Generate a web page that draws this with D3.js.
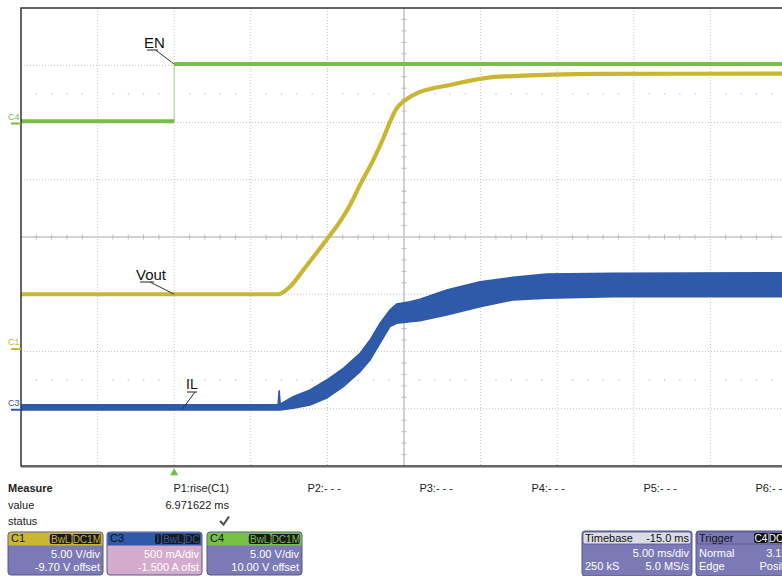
<!DOCTYPE html>
<html>
<head>
<meta charset="utf-8">
<script src="https://cdn.jsdelivr.net/npm/d3@7"></script>
<style>
body { margin: 0; background: #fff; }
text { font-family: "Liberation Sans", Arial, sans-serif; }
</style>
</head>
<body>
<svg id="main" width="782" height="576"></svg>
<script>
// traces, time in ms
var enT = [-10, 0, 0, 40];
var enV = [0.1, 0.1, 5.1, 5.1];

var voutT = [-10, 6.8, 7.56, 8.43, 9.3, 10.02, 10.82, 11.48, 12.13, 13.0, 13.65, 14.09, 14.52, 14.95, 15.83, 16.91, 18.0, 20.18, 21.27, 27.79, 40];
var voutV = [4.7, 4.7, 5.36, 6.82, 8.33, 9.59, 11.04, 12.5, 14.25, 16.43, 18.32, 19.77, 20.94, 21.52, 22.25, 22.69, 22.98, 23.56, 23.7, 23.94, 23.97];

var ilT  = [-10, 6.78, 6.85, 6.92, 7.76, 8.87, 9.95, 11.04, 12.13, 12.78, 13.43, 14.08, 14.52, 15.39, 16.04, 17.79, 19.96, 22.11, 24.31, 28.64, 40];
var ilHi = [0.035, 0.035, 0.16, 0.04, 0.105, 0.164, 0.251, 0.353, 0.484, 0.6, 0.746, 0.862, 0.915, 0.935, 0.956, 1.037, 1.11, 1.148, 1.177, 1.183, 1.188];
var ilLo = [-0.01, -0.01, -0.01, -0.01, 0.004, 0.033, 0.094, 0.193, 0.324, 0.426, 0.572, 0.717, 0.746, 0.76, 0.769, 0.819, 0.891, 0.95, 0.965, 0.979, 0.979];

// channel setup
var chNames   = ['C1', 'C3', 'C4'];
var chPerDiv  = [5, 0.5, 5];
var chOffset  = [-9.7, -1.5, 10];
var chColor   = ['#c9b633', '#2f5aa9', '#78bf47'];
var chBody    = ['#7b79b6', '#d5abcd', '#7b79b6'];
var chBadges  = [['BwL', 'DC1M'], ['I', 'BwL', 'DC'], ['BwL', 'DC1M']];
var chLine1   = ['5.00 V/div', '500 mA/div', '5.00 V/div'];
var chLine2   = ['-9.70 V offset', '-1.500 A ofst', '10.00 V offset'];

var measureLabels = ['P1:rise(C1)', 'P2:- - -', 'P3:- - -', 'P4:- - -', 'P5:- - -', 'P6:- - -'];
var measureValue = '6.971622 ms';

var svg = d3.select('#main');
var W = 782, H = 576;
var pL = 21, pR = 787, pT = 8, pB = 466;

var x = d3.scaleLinear().domain([-10, 40]).range([pL, pR]);
var div = d3.scaleLinear().domain([-4, 4]).range([pB, pT]);
// channel scale: value -> pixel
var chScale = i => d3.scaleLinear()
	.domain([-4*chPerDiv[i] - chOffset[i], 4*chPerDiv[i] - chOffset[i]])
	.range([pB, pT]);
var yC1 = chScale(0), yC3 = chScale(1), yC4 = chScale(2);

svg.append('rect').attr('width', W).attr('height', H).attr('fill', '#fff');

var defs = svg.append('defs');
defs.append('clipPath').attr('id', 'plotclip')
	.append('rect').attr('x', pL).attr('y', pT).attr('width', pR-pL).attr('height', pB-pT);

// grid
var grid = svg.append('g');
var tGrid = d3.range(-5, 40, 5).filter(t => t !== 15);
grid.selectAll('.vg').data(tGrid).join('line')
	.attr('x1', d => x(d)).attr('x2', d => x(d))
	.attr('y1', pT).attr('y2', pB)
	.attr('stroke', '#c4c4c4').attr('stroke-dasharray', '1,2');
var dGrid = [-3, -2, -1, 1, 2, 3];
grid.selectAll('.hg').data(dGrid).join('line')
	.attr('x1', pL).attr('x2', W)
	.attr('y1', d => div(d)).attr('y2', d => div(d))
	.attr('stroke', '#c4c4c4').attr('stroke-dasharray', '1,2');
// dot rows at +-2.5 div
var minorT = d3.range(-10, 40.01, 1).filter(t => t % 5 !== 0);
[-2.5, 2.5].forEach(dv => {
	grid.selectAll(null).data(minorT).join('rect')
		.attr('x', d => x(d) - 0.5).attr('y', div(dv) - 0.5)
		.attr('width', 1.2).attr('height', 1.2).attr('fill', '#bbb');
});
// center axes with ticks
grid.append('line').attr('x1', x(15)).attr('x2', x(15)).attr('y1', pT).attr('y2', pB)
	.attr('stroke', '#c6c6c6').attr('stroke-width', 1.6);
grid.append('line').attr('x1', pL).attr('x2', W).attr('y1', div(0)).attr('y2', div(0))
	.attr('stroke', '#c6c6c6').attr('stroke-width', 1.6);
grid.selectAll('.ht').data(minorT).join('line')
	.attr('x1', d => x(d)).attr('x2', d => x(d))
	.attr('y1', div(0) - 2.5).attr('y2', div(0) + 2.5)
	.attr('stroke', '#bcbcbc');
var minorD = d3.range(-4, 4.01, 0.2).filter(d => Math.abs(d - Math.round(d)) > 0.01);
grid.selectAll('.vt').data(minorD).join('line')
	.attr('x1', x(15) - 2.5).attr('x2', x(15) + 2.5)
	.attr('y1', d => div(d)).attr('y2', d => div(d))
	.attr('stroke', '#bcbcbc');

// traces
var traces = svg.append('g').attr('clip-path', 'url(#plotclip)');

var ilData = ilT.map((t, i) => ({t, hi: ilHi[i], lo: ilLo[i]}));
traces.append('path')
	.attr('d', d3.area().x(d => x(d.t)).y0(d => yC3(d.lo)).y1(d => yC3(d.hi))(ilData))
	.attr('fill', chColor[1]).attr('stroke', chColor[1]).attr('stroke-width', 1.5);

var voutData = voutT.map((t, i) => ({t, v: voutV[i]}));
traces.append('path')
	.attr('d', d3.line().x(d => x(d.t)).y(d => yC1(d.v)).curve(d3.curveMonotoneX)(voutData))
	.attr('fill', 'none').attr('stroke', chColor[0]).attr('stroke-width', 4.2);

var enData = enT.map((t, i) => ({t, v: enV[i]}));
traces.append('path')
	.attr('d', d3.line().x(d => x(d.t)).y(d => yC4(d.v))(enData))
	.attr('fill', 'none').attr('stroke', '#b5dd98').attr('stroke-width', 1.2);
for (var i = 0; i < enData.length - 1; i++) {
	if (enData[i].v !== enData[i+1].v) continue;
	traces.append('line')
		.attr('x1', x(enData[i].t)).attr('x2', x(enData[i+1].t))
		.attr('y1', yC4(enData[i].v)).attr('y2', yC4(enData[i+1].v))
		.attr('stroke', chColor[2]).attr('stroke-width', 4);
}

// frame
svg.append('path')
	.attr('d', `M${W+5},${pT} H${pL} V${pB} H${W+5}`)
	.attr('fill', 'none').attr('stroke', '#333').attr('stroke-width', 1.5);
svg.append('line').attr('x1', pL).attr('x2', W).attr('y1', pB + 1.5).attr('y2', pB + 1.5)
	.attr('stroke', '#aaa').attr('stroke-width', 1);

// channel ground markers
var markers = [[yC1, 0], [yC3, 1], [yC4, 2]];
markers.forEach(([sc, i]) => {
	var y0 = sc(0) + 1;
	svg.append('line').attr('x1', 11).attr('x2', pL).attr('y1', y0).attr('y2', y0)
		.attr('stroke', chColor[i]).attr('stroke-width', 2);
	svg.append('text').attr('x', 8).attr('y', y0 - 4).text(chNames[i])
		.attr('font-size', 9).attr('fill', chColor[i]);
});

// annotations
function note(label, tx, ty, ux1, ux2, uy, ex, ey, size) {
	svg.append('text').attr('x', tx).attr('y', ty).text(label)
		.attr('font-size', size).attr('fill', '#111');
	svg.append('line').attr('x1', ux1).attr('x2', ux2).attr('y1', uy).attr('y2', uy)
		.attr('stroke', '#222').attr('stroke-width', 1);
	svg.append('line').attr('x1', (ux1 + ux2) / 2 + 3).attr('y1', uy).attr('x2', ex).attr('y2', ey)
		.attr('stroke', '#333').attr('stroke-width', 1);
}
note('EN', 144, 48, 147, 158, 50, x(0), yC4(5.1), 15);
note('Vout', 136, 280, 140, 154, 282, x(0), yC1(4.7), 15);
note('IL', 186, 388.5, 187, 197, 392, x(0.55), yC3(0), 14);

// trigger marker
svg.append('path')
	.attr('d', d3.symbol(d3.symbolTriangle, 28)())
	.attr('transform', `translate(${x(0)},${473})`)
	.attr('fill', '#6cc04a');

// measure panel
svg.append('text').attr('x', 8).attr('y', 492).text('Measure')
	.attr('font-size', 11).attr('font-weight', 'bold').attr('fill', '#222');
svg.append('text').attr('x', 8).attr('y', 509).text('value').attr('font-size', 11).attr('fill', '#222');
svg.append('text').attr('x', 8).attr('y', 525).text('status').attr('font-size', 11).attr('fill', '#222');
svg.selectAll('.pl').data(measureLabels).join('text')
	.attr('x', (d, i) => 229 + i*112).attr('y', 492)
	.attr('text-anchor', 'end').attr('font-size', 11).attr('fill', '#222')
	.text(d => d);
svg.append('text').attr('x', 229).attr('y', 509).attr('text-anchor', 'end')
	.attr('font-size', 11).attr('fill', '#222').text(measureValue);
svg.append('path')
	.attr('d', 'M220,521 L223.5,524.5 L229,516.5')
	.attr('fill', 'none').attr('stroke', '#555').attr('stroke-width', 2.2);

// channel boxes
var boxX = [8, 107, 207];
var boxW = 95;
chNames.forEach((name, i) => {
	var g = svg.append('g').attr('transform', `translate(${boxX[i]},532)`);
	g.append('rect').attr('width', boxW).attr('height', 43).attr('rx', 3)
		.attr('fill', chBody[i]).attr('stroke', '#56568a').attr('stroke-width', 1);
	g.append('path')
		.attr('d', `M0.5,13.5 V3 Q0.5,0.5 3,0.5 H${boxW-3} Q${boxW-0.5},0.5 ${boxW-0.5},3 V13.5 Z`)
		.attr('fill', chColor[i]);
	g.append('text').attr('x', 3).attr('y', 9.5).text(name).attr('font-size', 11).attr('fill', '#111');
	var bx = boxW - 2;
	chBadges[i].slice().reverse().forEach(b => {
		var w = b.length === 1 ? 6 : b.length * 6.6 + 2;
		bx -= w;
		g.append('rect').attr('x', bx).attr('y', 2).attr('width', w).attr('height', 10).attr('rx', 2)
			.attr('fill', '#1a1a1a');
		g.append('text').attr('x', bx + w/2).attr('y', 10.5).attr('text-anchor', 'middle')
			.attr('font-size', 10).attr('fill', chColor[i]).text(b);
		bx -= 1;
	});
	g.append('text').attr('x', boxW - 3).attr('y', 26).attr('text-anchor', 'end')
		.attr('font-size', 11).attr('fill', '#fff').text(chLine1[i]);
	g.append('text').attr('x', boxW - 3).attr('y', 39).attr('text-anchor', 'end')
		.attr('font-size', 11).attr('fill', '#fff').text(chLine2[i]);
});

// timebase / trigger boxes
function infoBox(bx, w, head, headRight, rows, headFill) {
	var g = svg.append('g').attr('transform', `translate(${bx},531)`);
	g.append('rect').attr('width', w).attr('height', 45).attr('rx', 3)
		.attr('fill', '#7b79b6').attr('stroke', '#56568a');
	g.append('rect').attr('x', 1).attr('y', 1).attr('width', w - 2).attr('height', 12).attr('rx', 2)
		.attr('fill', headFill).attr('stroke', '#56568a').attr('stroke-width', 0.8);
	g.append('text').attr('x', 3).attr('y', 10.5).attr('font-size', 11).attr('fill', '#111').text(head);
	if (typeof headRight === 'string')
		g.append('text').attr('x', w - 3).attr('y', 10.5).attr('text-anchor', 'end')
			.attr('font-size', 11).attr('fill', '#111').text(headRight);
	rows.forEach((r, k) => {
		g.append('text').attr('x', 3).attr('y', 26 + k*13).attr('font-size', 11).attr('fill', '#fff').text(r[0]);
		g.append('text').attr('x', w - 3).attr('y', 26 + k*13).attr('text-anchor', 'end')
			.attr('font-size', 11).attr('fill', '#fff').text(r[1]);
	});
	return g;
}
infoBox(582, 110, 'Timebase', '-15.0 ms', [['', '5.00 ms/div'], ['250 kS', '5.0 MS/s']], '#dcdce6');
var trig = infoBox(696, 105, 'Trigger', null, [['Normal', '3.15 V'], ['Edge', 'Positive']], '#7b79b6');
[['C4', 58, 14], ['DC', 73, 14]].forEach(([b, bx, w]) => {
	trig.append('rect').attr('x', bx).attr('y', 2).attr('width', w).attr('height', 10).attr('rx', 2).attr('fill', '#111');
	trig.append('text').attr('x', bx + w/2).attr('y', 10.5).attr('text-anchor', 'middle')
		.attr('font-size', 10).attr('fill', '#fff').text(b);
});
</script>
</body>
</html>
